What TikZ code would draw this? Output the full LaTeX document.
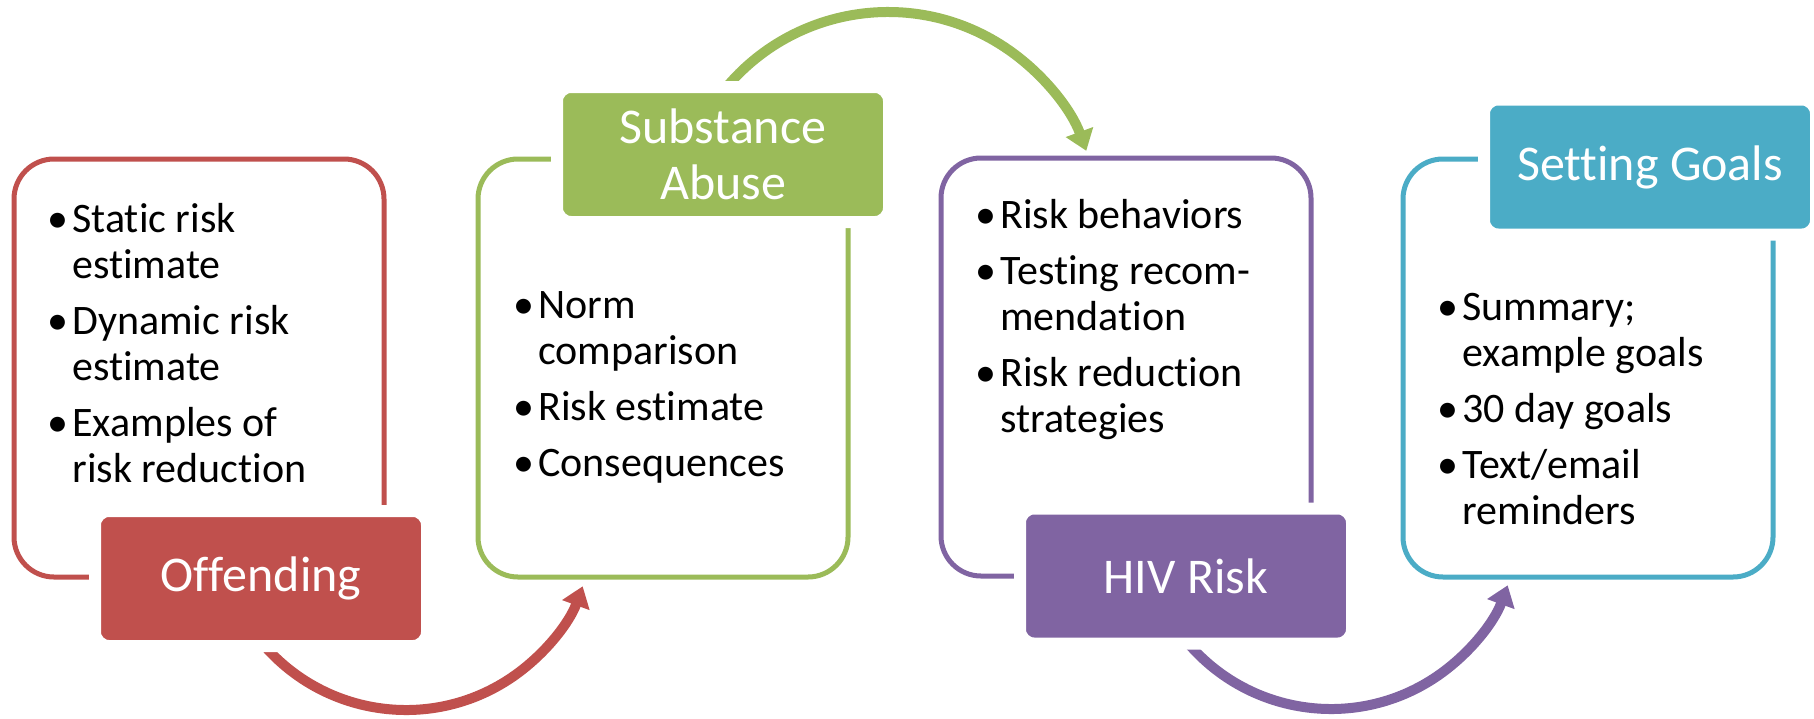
\documentclass[tikz,border=0pt]{standalone}
\usepackage{fontspec}
\setmainfont[Ligatures=NoCommon]{Carlito}
\usetikzlibrary{arrows.meta}
\definecolor{cred}{HTML}{C0504D}
\definecolor{cgreen}{HTML}{9BBB59}
\definecolor{cpurple}{HTML}{8064A2}
\definecolor{cteal}{HTML}{4BACC6}
\newcommand{\bl}{\makebox[12.5pt][l]{\textbullet}}
\begin{document}
\begin{tikzpicture}[x=0.5pt,y=-0.5pt,
  outbox/.style={draw=#1, line width=2.5pt, rounded corners=20pt, minimum width=185pt, minimum height=209pt, inner sep=0pt, fill=white},
  labelbox/.style={fill=#1, draw=white, line width=6pt, rounded corners=7pt, minimum width=166pt, minimum height=67.5pt, inner sep=0pt, text=white, font=\fontsize{25pt}{28pt}\selectfont, align=center},
  flow/.style={draw=#1, line width=5pt, -{Triangle[length=10pt,width=14pt]}},
  items/.style={anchor=base west, inner sep=0pt, font=\fontsize{21pt}{23pt}\selectfont}
]
\useasboundingbox (0,0) rectangle (1814,718);

% outline boxes
\node[outbox=cred]    (b1) at (199,368) {};
\node[outbox=cgreen]  (b2) at (663,368) {};
\node[outbox=cpurple] (b3) at (1126,367) {};
\node[outbox=cteal]   (b4) at (1588,368) {};

% arrows
\coordinate (c1) at (406,522);
\coordinate (c2) at (888,223);
\coordinate (c3) at (1331,521);
\draw[flow=cred]    ([shift={(145:188)}]c1) arc[start angle=145, end angle=20, radius=188];
\draw[flow=cgreen]  ([shift={(215:211)}]c2) arc[start angle=215, end angle=340, radius=211];
\draw[flow=cpurple] ([shift={(145:188)}]c3) arc[start angle=145, end angle=20, radius=188];

% labels
\node[labelbox=cred]    (l1) at (261,578.5) {Offending};
\node[labelbox=cgreen]  (l2) at (723,154.5) {Substance\\Abuse};
\node[labelbox=cpurple] (l3) at (1186,576) {HIV Risk};
\node[labelbox=cteal]   (l4) at (1650,167) {Setting Goals};

% texts
\node[items] (t1) at (47,232) {\begin{tabular}[t]{@{}l@{}l@{}}\bl&Static risk\\&estimate\\[5pt]\bl&Dynamic risk\\&estimate\\[5pt]\bl&Examples of\\&risk reduction\end{tabular}};
\node[items] (t2) at (513,318) {\begin{tabular}[t]{@{}l@{}l@{}}\bl&Norm\\&comparison\\[5pt]\bl&Risk estimate\\[5pt]\bl&Consequences\end{tabular}};
\node[items] (t3) at (975,228) {\begin{tabular}[t]{@{}l@{}l@{}}\bl&Risk behaviors\\[5pt]\bl&Testing recom-\\&mendation\\[5pt]\bl&Risk reduction\\&strategies\end{tabular}};
\node[items] (t4) at (1437,320) {\begin{tabular}[t]{@{}l@{}l@{}}\bl&Summary;\\&example goals\\[5pt]\bl&30 day goals\\[5pt]\bl&Text/email\\&reminders\end{tabular}};
\end{tikzpicture}
\end{document}
